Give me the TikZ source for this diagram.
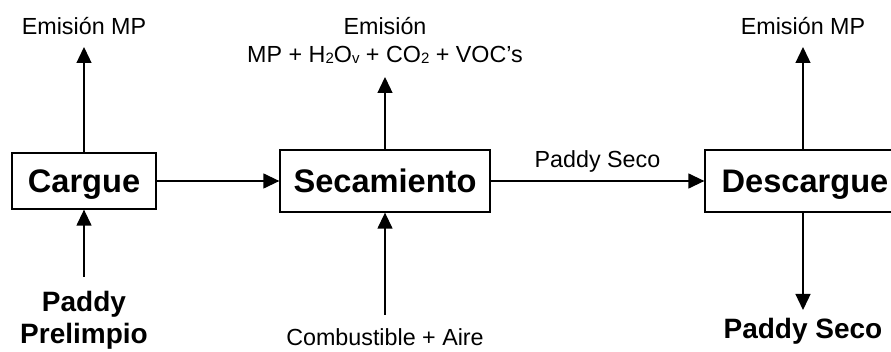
\documentclass[tikz,border=0pt]{standalone}
\usepackage{fontspec}
\setmainfont{Liberation Sans}
\usetikzlibrary{arrows.meta}
\tikzset{
	etapa/.style={draw, line width=1.3pt, inner sep=0pt, minimum height=62pt, text height=23.3pt, text depth=0pt, font=\fontsize{32.6}{32.6}\selectfont\bfseries},
	salida/.style={inner xsep=0pt, inner ysep=12pt, align=center, font=\fontsize{23.3}{28}\selectfont},
	entrada/.style={inner xsep=0pt, inner ysep=14pt, align=center, font=\fontsize{28}{32}\selectfont\bfseries},
	flujo/.style={line width=1.3pt, -{Triangle[length=16pt,width=15pt]}}
}
\newcommand{\subind}[1]{\raisebox{-1pt}{\fontsize{15}{15}\selectfont #1}}

\begin{document}
\begin{tikzpicture}[x=1pt, y=-1pt]
	\useasboundingbox (0,0) rectangle (891,352);
	\clip (0,0) rectangle (891,352);
	\node[etapa, minimum width=144pt, minimum height=56pt] (cargue) at (84,181) {Cargue};
	\node[etapa, minimum width=210pt] (secado) at (385,181) {Secamiento};
	\node[etapa, minimum width=200pt] (descargue) at (805,181) {Descargue};
	\node[salida, anchor=south] (emi1) at (84,47) {Emisión MP};
	\node[salida, anchor=south, inner ysep=13pt] (emi2) at (385,77) {Emisión\\MP + H\subind{2}O\subind{v} + CO\subind{2} + VOC’s};
	\node[salida, anchor=south] (emi3) at (803,47) {Emisión MP};
	\node[entrada, anchor=north] (prelimpio) at (84,277) {Paddy\\Prelimpio};
	\node[salida, anchor=north, inner ysep=13pt] (combustible) at (385,315) {Combustible + Aire};
	\node[entrada, anchor=north, inner ysep=8pt] (seco) at (803,310) {Paddy Seco};
	\draw[flujo] (cargue) -- (emi1);
	\draw[flujo] (prelimpio) -- (cargue);
	\draw[flujo] (cargue) -- (secado);
	\draw[flujo] (secado) -- (emi2);
	\draw[flujo] (combustible) -- (secado);
	\draw[flujo] (secado) -- node[midway, above=8pt, inner sep=0pt, font=\fontsize{23.3}{28}\selectfont] {Paddy Seco} (descargue.west);
	\draw[flujo] (descargue.north -| emi3) -- (emi3);
	\draw[flujo] (descargue.south -| seco) -- (seco);
\end{tikzpicture}
\end{document}
